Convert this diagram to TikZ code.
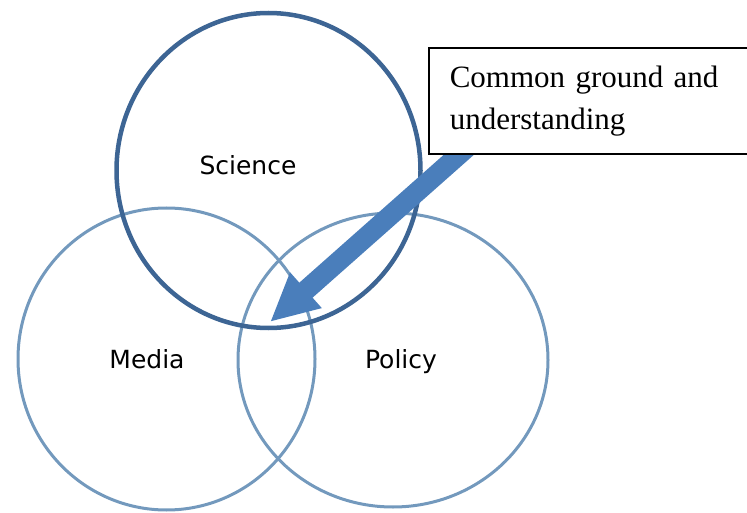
\documentclass[tikz,border=0pt]{standalone}
\usepackage{fontspec}
\setmainfont{Liberation Serif}
\newfontfamily\labelfont{DejaVu Sans}
\usetikzlibrary{shapes.geometric,arrows.meta}
\definecolor{scienceblue}{HTML}{3D6594}
\definecolor{lightblue}{HTML}{7399BD}
\definecolor{arrowblue}{HTML}{4A7EBB}
\tikzset{
  ring/.style={draw=lightblue, line width=3pt, ellipse, inner sep=0pt},
  mainring/.style={draw=scienceblue, line width=4.5pt, ellipse, inner sep=0pt},
  lbl/.style={font=\labelfont\fontsize{25}{29}\selectfont, anchor=base, inner sep=0pt},
  notebox/.style={draw=black, line width=1.6pt, fill=white, anchor=north west,
    minimum width=340pt, minimum height=106pt, text width=298pt, align=left,
    inner xsep=21pt, font=\fontsize{31}{42}\selectfont},
  bigarrow/.style={draw=arrowblue, line width=20pt, -{Triangle[length=48pt,width=44pt]}}
}
\begin{document}
\begin{tikzpicture}[x=1pt,y=-1pt]
\useasboundingbox (0,0) rectangle (747,513);
\node (media) [ring, minimum width=297pt, minimum height=302pt] at (166.5,359) {};
\node (policy) [ring, minimum width=310pt, minimum height=294pt] at (393,360) {};
\node (science) [mainring, minimum width=304pt, minimum height=315pt] at (268.5,170.5) {};
\node (sciencelbl) [lbl] at (248,175) {Science};
\node (medialbl) [lbl] at (147,368) {Media};
\node (policylbl) [lbl] at (401,368) {Policy};
\coordinate (arrowstart) at (497,121);
\coordinate (arrowtip) at (270,322);
\draw[bigarrow] (arrowstart) -- (arrowtip);
\node (note) [notebox] at (428,47) {Common ground and\\understanding};
\end{tikzpicture}
\end{document}
